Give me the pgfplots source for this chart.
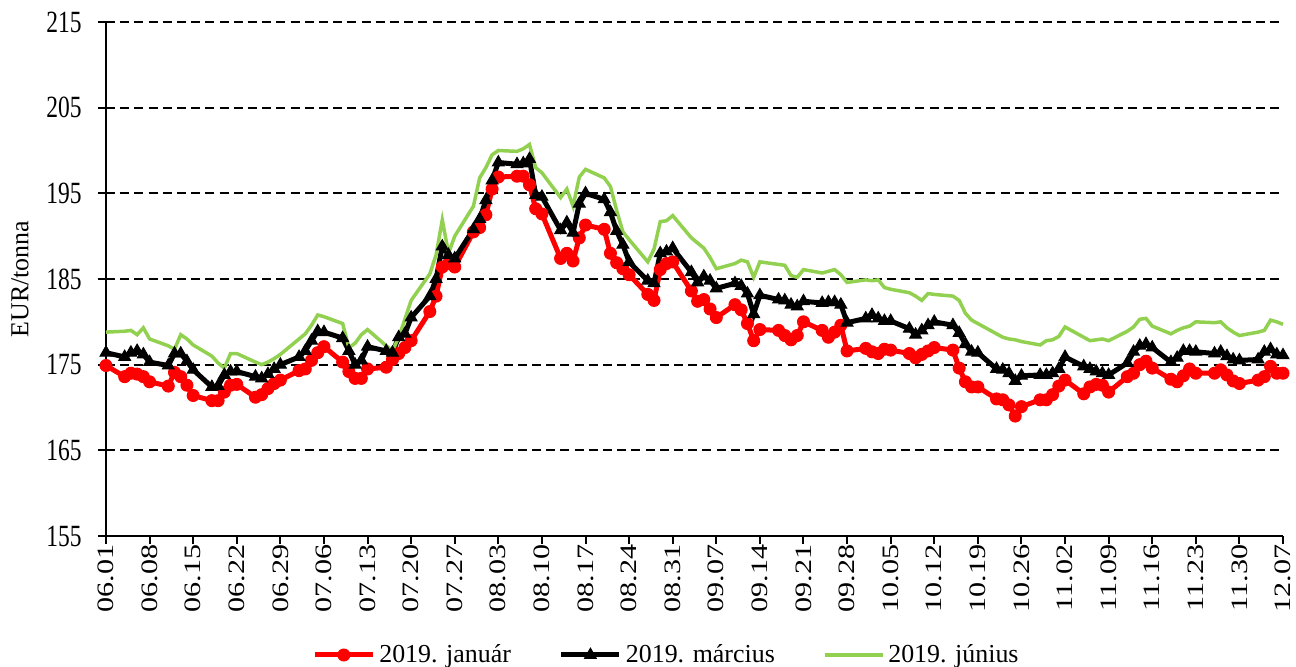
\documentclass[border=0pt]{standalone}
\usepackage{fontspec}
\setmainfont{Liberation Serif}
\newfontfamily\ytickfont[FakeStretch=0.76]{Liberation Serif}
\newfontfamily\xtickfont[FakeStretch=1.28]{Liberation Serif}
\usepackage{pgfplots}
\usepackage{pgfplotstable}
\pgfplotsset{compat=1.18}
\definecolor{jgreen}{RGB}{146,208,80}
\definecolor{jred}{RGB}{255,0,0}
\pgfplotstableread{
d jan mar jun
0 174.9 176.4 178.8
3 173.6 175.9 178.9
4 174.0 176.4 179.0
5 173.9 176.6 178.5
6 173.6 176.2 179.3
7 173.0 175.3 178.0
10 172.5 174.9 177.2
11 174.1 176.3 176.8
12 173.6 176.3 178.5
13 172.6 175.4 178.0
14 171.4 174.4 177.3
17 170.8 172.4 176.0
18 170.8 172.5 175.2
19 171.8 173.8 174.6
20 172.6 174.2 176.3
21 172.7 174.2 176.3
24 171.2 173.6 175.3
25 171.5 173.4 175.0
26 172.2 173.9 175.3
27 172.8 174.5 175.7
28 173.2 175.0 176.2
31 174.3 175.9 178.0
32 174.5 176.6 178.6
33 175.5 177.8 179.6
34 176.4 178.9 180.8
35 177.1 178.8 180.6
38 175.3 178.1 179.8
39 174.2 176.6 177.0
40 173.4 175.0 177.5
41 173.4 175.5 178.5
42 174.5 177.1 179.1
45 174.7 176.6 177.2
46 175.6 176.4 176.6
47 176.3 178.2 178.2
48 177.0 178.6 180.3
49 177.8 180.5 182.5
52 181.2 183.0 185.6
53 183.0 185.0 187.8
54 186.4 188.8 191.9
55 186.8 187.8 188.0
56 186.4 187.4 190.0
59 190.5 190.8 193.5
60 191.0 192.0 196.8
61 192.5 194.2 198.0
62 195.5 196.5 199.5
63 196.9 198.6 200.0
66 197.0 198.4 199.9
67 197.0 198.5 200.2
68 196.0 199.0 200.7
69 193.2 194.8 198.0
70 192.6 194.6 197.4
73 187.4 190.7 194.5
74 188.0 191.6 195.5
75 187.1 190.4 193.5
76 189.8 193.8 196.9
77 191.3 195.0 197.8
80 190.8 194.3 196.8
81 188.0 192.8 195.8
82 186.9 190.6 193.0
83 186.2 189.0 190.5
84 185.5 187.0 189.6
87 183.2 184.8 187.0
88 182.5 184.5 188.5
89 186.1 188.0 191.7
90 186.8 188.2 191.8
91 187.0 188.6 192.4
94 183.6 185.8 189.8
95 182.4 184.6 189.2
96 182.6 185.3 188.6
97 181.5 184.8 187.5
98 180.5 183.9 186.2
101 182.0 184.5 186.8
102 181.4 184.2 187.2
103 179.8 183.3 187.0
104 177.8 180.9 185.2
105 179.1 183.1 187.0
108 179.0 182.6 186.7
109 178.4 182.5 186.6
110 177.9 182.0 185.4
111 178.4 181.8 185.2
112 180.0 182.4 186.1
115 179.0 182.2 185.7
116 178.2 182.3 185.9
117 178.8 182.3 186.1
118 179.6 182.0 185.5
119 176.6 179.9 184.6
122 176.9 180.4 184.9
123 176.5 180.8 184.8
124 176.3 180.4 184.9
125 176.8 180.1 184.0
126 176.7 180.1 183.8
129 176.3 179.2 183.4
130 175.8 178.5 183.0
131 176.2 179.0 182.5
132 176.6 179.6 183.3
133 177.0 180.0 183.2
136 176.7 179.6 183.0
137 174.6 178.7 182.5
138 173.0 177.4 181.0
139 172.4 176.5 180.2
140 172.4 176.4 179.8
143 171.0 174.5 178.6
144 170.9 174.4 178.2
145 170.3 174.0 178.0
146 169.0 173.1 177.9
147 170.1 173.7 177.7
150 170.9 173.8 177.3
151 170.9 173.8 177.8
152 171.5 174.0 177.9
153 172.5 174.5 178.3
154 173.2 175.9 179.4
157 171.6 174.8 178.2
158 172.4 174.5 177.8
159 172.7 174.2 177.9
160 172.6 174.0 178.0
161 171.8 173.8 177.8
164 173.6 175.2 178.9
165 174.0 176.5 179.4
166 175.0 177.2 180.3
167 175.4 177.4 180.4
168 174.6 177.0 179.5
171 173.3 175.3 178.6
172 173.0 175.8 179.0
173 173.7 176.6 179.3
174 174.5 176.6 179.5
175 174.0 176.5 180.0
178 174.0 176.3 179.9
179 174.4 176.5 180.0
180 173.8 176.0 179.3
181 173.1 175.6 178.8
182 172.8 175.5 178.4
185 173.2 175.6 178.8
186 173.6 176.5 179.0
187 174.8 176.8 180.2
188 174.0 176.2 180.0
189 174.0 176.1 179.7
}\data
\begin{document}
\begin{tikzpicture}
\begin{axis}[
  scale only axis, width=588.5bp, height=257bp,
  xmin=0, xmax=189, ymin=155, ymax=215,
  axis lines=left, axis line style={-, black, line width=1bp},
  clip=false,
  ytick={155,165,...,215},
  xtick={0,7,...,189},
  xticklabels={06.01,06.08,06.15,06.22,06.29,07.06,07.13,07.20,07.27,08.03,08.10,08.17,08.24,08.31,09.07,09.14,09.21,09.28,10.05,10.12,10.19,10.26,11.02,11.09,11.16,11.23,11.30,12.07},
  /pgf/number format/assume math mode=true,
  xticklabel style={rotate=90, anchor=east, inner sep=0pt, font=\xtickfont\fontsize{11.8}{13}\selectfont},
  yticklabel style={inner sep=0pt, xshift=-8bp, font=\ytickfont\fontsize{15.5}{17}\selectfont},
  tick align=outside, major tick length=4bp,
  tick style={black, line width=1bp},
  ymajorgrids, grid style={black, dash pattern=on 4.5bp off 2.6bp, line width=1bp},
  ylabel={EUR/tonna},
  every axis y label/.style={at={(rel axis cs:0,0.5)}, xshift=-43bp, rotate=90, anchor=center, font=\fontsize{13}{15}\selectfont},
  legend columns=3,
  legend style={draw=none, fill=none, at={(0.477,-0.2315)}, anchor=center, font=\fontsize{13}{15}\selectfont,
    /tikz/every even column/.append style={column sep=22bp}, inner sep=0pt},
  legend image code/.code={\draw[mark repeat=2,mark phase=2,#1] plot coordinates {(0bp,0bp) (14.5bp,0bp) (29bp,0bp)};},
]
\addplot[jred, line width=2.5bp, mark=*, mark size=3bp, mark options={solid, fill=jred, draw=jred, line width=0.5bp}] table[x=d, y=jan] {\data};
\addlegendentry{2019. január}
\addplot[black, line width=2.5bp, mark=triangle*, mark size=3.4bp, mark options={solid, fill=black, line width=0.5bp}] table[x=d, y=mar] {\data};
\addlegendentry{2019. március}
\addplot[jgreen, line width=1.75bp] table[x=d, y=jun] {\data};
\addlegendentry{2019. június}
\coordinate (bl) at (rel axis cs:0,0);
\coordinate (tr) at (rel axis cs:1,1);
\end{axis}
\pgfresetboundingbox
\path ([shift={(-53bp,-65.5bp)}]bl) rectangle ([shift={(6.5bp,11bp)}]tr);
\end{tikzpicture}
\end{document}
